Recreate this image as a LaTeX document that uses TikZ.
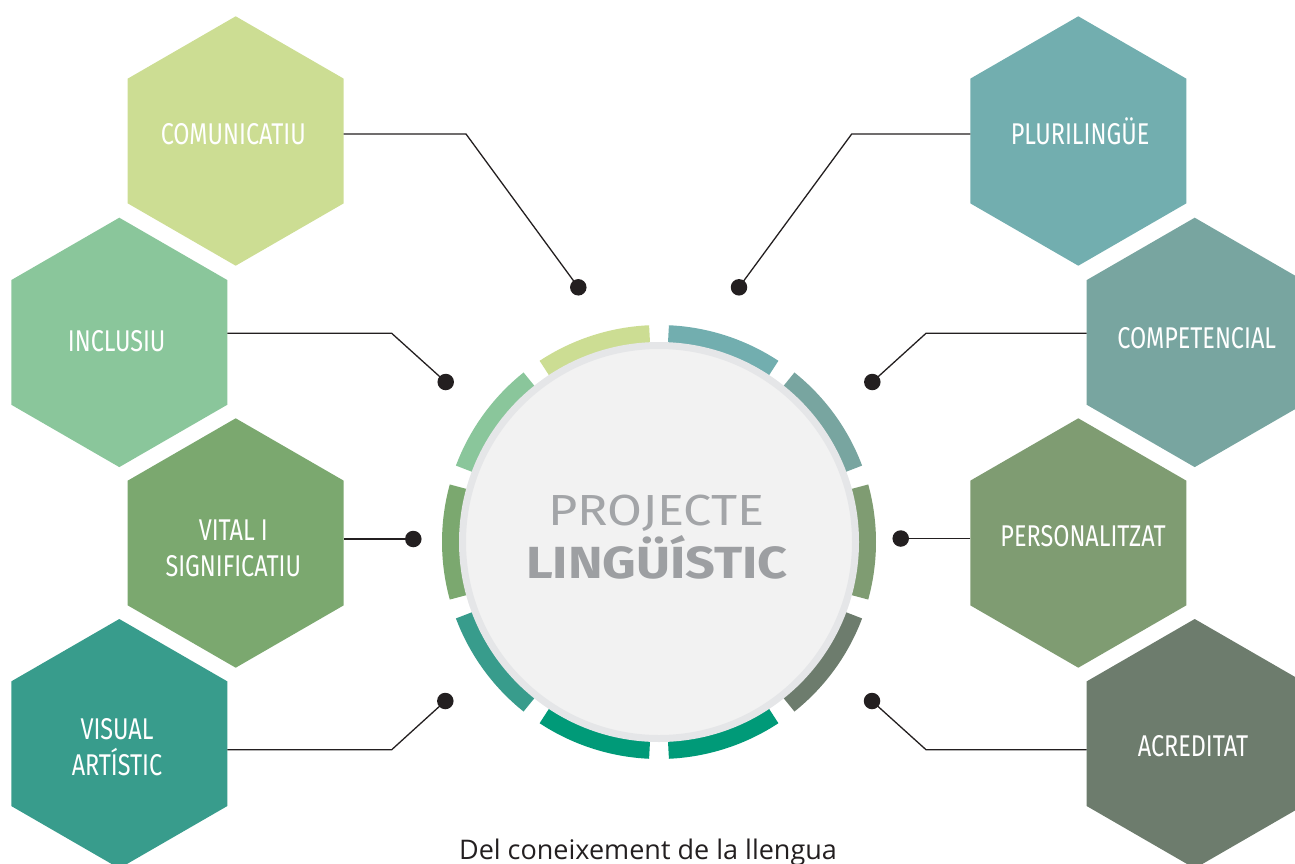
\documentclass[tikz,border=0pt]{standalone}
\usepackage{fontspec}
\setmainfont{Fira Sans}
\newfontfamily\capfont{Open Sans}
\usetikzlibrary{shapes.geometric,calc}
\definecolor{cComu}{HTML}{CCDD93}
\definecolor{cIncl}{HTML}{8AC69B}
\definecolor{cVital}{HTML}{7BA86F}
\definecolor{cVisual}{HTML}{389C8C}
\definecolor{cPluri}{HTML}{72AEAF}
\definecolor{cComp}{HTML}{78A5A0}
\definecolor{cPers}{HTML}{7F9C72}
\definecolor{cAcre}{HTML}{6D7C6D}
\definecolor{cBot}{HTML}{009A78}
\definecolor{lineC}{HTML}{231F20}
\definecolor{discFill}{HTML}{F2F2F2}
\definecolor{discRim}{HTML}{E5E6E8}
\definecolor{titleLight}{HTML}{A3A5A8}
\definecolor{titleBold}{HTML}{9D9FA2}
\newcommand{\hx}[1]{\scalebox{0.78}[1]{#1}}
\begin{document}
\begin{tikzpicture}[x=1pt,y=-1pt,
  hexa/.style={regular polygon, regular polygon sides=6, shape border rotate=30,
    minimum size=249.4pt, inner sep=0pt, outer sep=0pt, fill=#1},
  hexlabel/.style={text=white, font=\fontsize{30}{35.7}\selectfont, align=center, inner sep=0pt},
  conn/.style={line width=1.3pt, draw=lineC},
  dotn/.style={circle, fill=lineC, minimum size=16.5pt, inner sep=0pt, outer sep=0pt},
  seg/.style={line width=19pt, draw=#1}]
\useasboundingbox (0,0) rectangle (1295,863);
\clip (0,0) rectangle (1295,863);

% hexagons
\node[hexa=cComu]   (c1) at (235.7,141) {};
\node[hexa=cPluri]  (c2) at (1078.3,141) {};
\node[hexa=cIncl]   (c3) at (119.3,342.4) {};
\node[hexa=cComp]   (c4) at (1194.7,342.4) {};
\node[hexa=cVital]  (c5) at (235.7,543) {};
\node[hexa=cPers]   (c6) at (1078.3,543) {};
\node[hexa=cVisual] (c7) at (119.3,743.7) {};
\node[hexa=cAcre]   (c8) at (1194.7,743.7) {};

% labels
\node[hexlabel, anchor=base] (t1) at (233.3,144) {\hx{COMUNICATIU}};
\node[hexlabel, anchor=base] (t2) at (1080,144) {\hx{PLURILINGÜE}};
\node[hexlabel, anchor=base] (t3) at (116.7,351.7) {\hx{INCLUSIU}};
\node[hexlabel, anchor=base] (t4) at (1196.7,348.3) {\hx{COMPETENCIAL}};
\node[hexlabel] (t5) at (233.3,548.4) {\hx{VITAL I}\\\hx{SIGNIFICATIU}};
\node[hexlabel, anchor=base] (t6) at (1083,546.7) {\hx{PERSONALITZAT}};
\node[hexlabel] (t7) at (117,747.2) {\hx{VISUAL}\\\hx{ARTÍSTIC}};
\node[hexlabel, anchor=base] (t8) at (1193,756.7) {\hx{ACREDITAT}};

% central ring
\coordinate (O) at (659,542);
\foreach \ph/\col in {108/cComu, 72/cPluri, 36/cComp, 0/cPers, -36/cAcre,
                      -72/cBot, -108/cBot, -144/cVisual, 180/cVital, 144/cIncl}{
  \draw[seg=\col] (O) ++({-\ph+15.4}:207.5) arc[start angle={-\ph+15.4}, end angle={-\ph-15.4}, radius=207.5];
}
\node[circle, fill=discFill, draw=discRim, line width=7pt, minimum size=393pt, inner sep=0pt] (disc) at (O) {};
\node[text=titleLight, font=\fontsize{43.5}{50}\selectfont, anchor=base, inner sep=0pt] (p1) at (656.5,525) {\scalebox{1.16}[1]{PROJECTE}};
\node[text=titleBold, font=\bfseries\fontsize{45}{50}\selectfont, anchor=base, inner sep=0pt] (p2) at (657,578.3) {\scalebox{1.16}[1]{LINGÜÍSTIC}};

% dots and corner points
\node[dotn] (d1) at (578.3,287.3) {};
\node[dotn] (d2) at (739,287.3) {};
\node[dotn] (d3) at (445.7,382) {};
\node[dotn] (d4) at (872.3,382) {};
\node[dotn] (d5) at (413.3,539) {};
\node[dotn] (d6) at (900.7,538.5) {};
\node[dotn] (d7) at (445.3,701) {};
\node[dotn] (d8) at (872,701) {};
\coordinate (k1) at (466,134);
\coordinate (k2) at (851.7,134);
\coordinate (k3) at (391.7,333.3);
\coordinate (k4) at (926,333.3);
\coordinate (k7) at (391.7,749.7);
\coordinate (k8) at (926,749.7);

\draw[conn] (c1.east |- k1) -- (k1) -- (d1.center);
\draw[conn] (c2.west |- k2) -- (k2) -- (d2.center);
\draw[conn] (c3.east |- k3) -- (k3) -- (d3.center);
\draw[conn] (c4.west |- k4) -- (k4) -- (d4.center);
\draw[conn] (c5.east |- d5) -- (d5.center);
\draw[conn] (c6.west |- d6) -- (d6.center);
\draw[conn] (c7.east |- k7) -- (k7) -- (d7.center);
\draw[conn] (c8.west |- k8) -- (k8) -- (d8.center);

% caption
\node[text=lineC, font=\capfont\fontsize{27}{30}\selectfont, anchor=base, inner sep=0pt] (cap) at (648,859.5) {Del coneixement de la llengua};
\end{tikzpicture}
\end{document}
